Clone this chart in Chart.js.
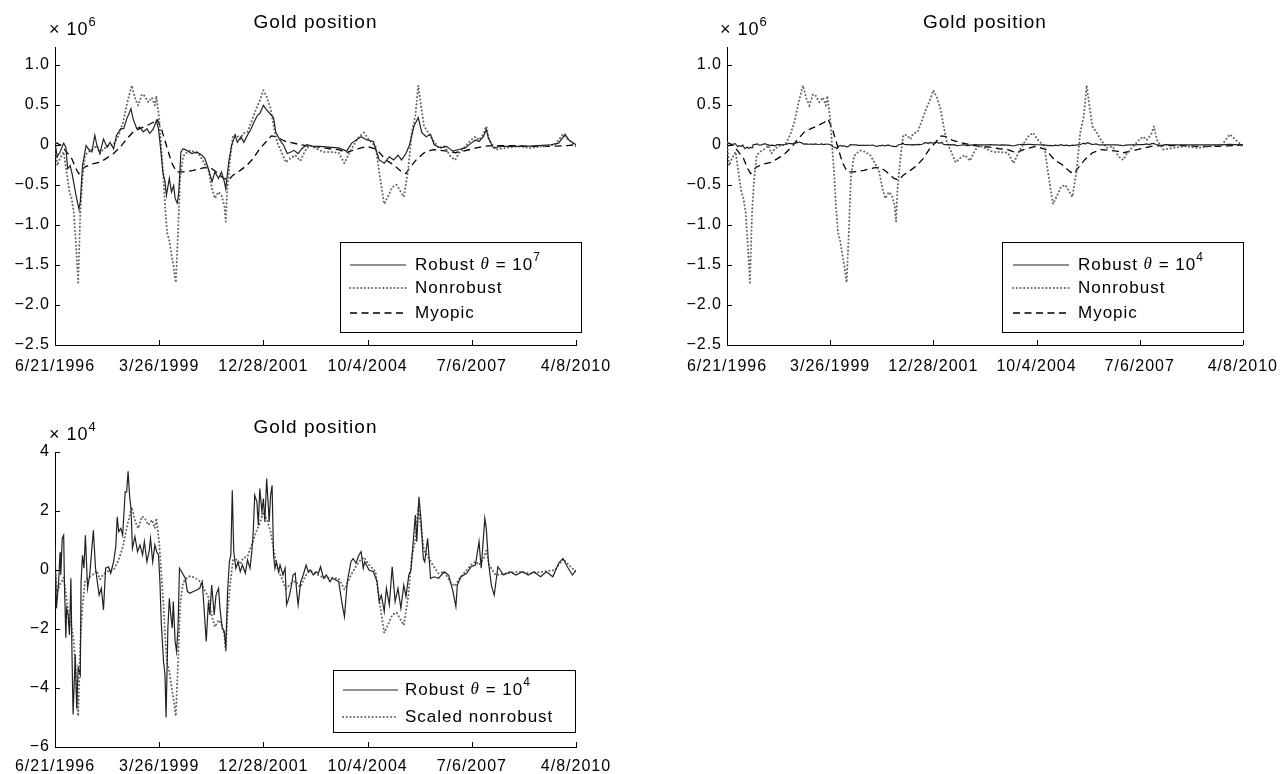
<!DOCTYPE html>
<html>
<head>
<meta charset="utf-8">
<script src="https://cdn.jsdelivr.net/npm/chart.js@4/dist/chart.umd.min.js"></script>
<style>
  html, body { margin: 0; padding: 0; background: #fff; }
  #wrap { position: relative; width: 1286px; height: 774px; overflow: hidden; }
  canvas { position: absolute; }
</style>
</head>
<body>
<div id="wrap">
  <canvas id="c1" width="640" height="380" style="left:0;top:0"></canvas>
  <canvas id="c2" width="646" height="380" style="left:640px;top:0"></canvas>
  <canvas id="c3" width="640" height="374" style="left:0;top:400px"></canvas>
</div>
<script>
// ── Gold position: robust vs nonrobust vs myopic ─────────────────────────────
// Weekly data, 6/21/1996 .. 4/8/2010. x is in weeks since 6/21/1996 (720 total),
// read off the reference at irregular spacing to keep the peaks.

const xTickWeeks = [0, 144, 288, 432, 576, 720];
const xTickText  = ['6/21/1996', '3/26/1999', '12/28/2001', '10/4/2004', '7/6/2007', '4/8/2010'];

const yTicksTop     = [-2.5, -2, -1.5, -1, -0.5, 0, 0.5, 1];
const yTicksTopText = ['\u22122.5', '\u22122.0', '\u22121.5', '\u22121.0', '\u22120.5', '0', '0.5', '1.0'];
const yTicksBot     = [-6, -4, -2, 0, 2, 4];
const yTicksBotText = ['\u22126', '\u22124', '\u22122', '0', '2', '4'];

// Robust θ = 10^7 (× 10^6)
const robust7Weeks = [0,3,7,12,15,17.5,21,24,29,32,33,35,38,43,46,51,55,58,62,67,72,76,81,85,91,95,99,105,108,113,117,122,127,131,136,140,143,146,149,152,154,158,161,164,166,169,171,174,177,182,189,196,203,207,212,217,221,226,230,234,236,240,244,249,252,257,261,266,270,275,280,283,288,293,297,302,305,310,316,321,326,330,336,341,348,357,366,378,392,403,410,423,431,440,448,455,462,468,474,479,485,490,496,502,507,513,519,524,533,541,550,558,567,575,581,586,592,596,599,606,617,634,651,668,685,696,705,710,720];
const robust7Vals  = [0.03,-0.15,-0.09,0.02,-0.03,-0.30,-0.26,-0.38,-0.63,-0.76,-0.80,-0.71,-0.26,-0.01,-0.05,-0.09,0.12,-0.01,-0.11,0.07,-0.03,0.03,-0.05,0.12,0.2,0.2,0.32,0.45,0.32,0.2,0.22,0.16,0.2,0.14,0.2,0.3,0.2,-0.05,-0.34,-0.46,-0.63,-0.42,-0.59,-0.51,-0.67,-0.73,-0.6,-0.09,-0.05,-0.07,-0.11,-0.09,-0.13,-0.17,-0.30,-0.46,-0.34,-0.42,-0.34,-0.46,-0.55,-0.22,-0.01,0.12,0.03,0.1,0.03,0.12,0.18,0.28,0.37,0.39,0.49,0.43,0.39,0.34,0.16,0.07,-0.01,-0.11,-0.09,-0.07,-0.11,-0.05,0,-0.02,-0.02,-0.03,-0.04,-0.08,0.02,0.1,0.06,0.04,-0.19,-0.23,-0.15,-0.19,-0.13,-0.19,-0.11,0,0.23,0.34,0.15,0.1,0.13,0,-0.04,-0.02,-0.08,-0.06,-0.04,0.02,0.06,0.04,0.1,0.19,0.08,-0.04,-0.02,-0.02,-0.02,-0.01,0,0.02,0.13,0.06,0];

// Nonrobust (× 10^6)
const nonrobustWeeks = [0,3,7,12,16,20,23,26,29,32,35,38,41.5,46,53,58,62,67,74,81,88,94,100,106,111,115,120,124,129,134,138,140,144,147,150,152,155,158,161,164,167,170,173,177,180,187,193,200,207,212,217,221,226,230,234,236,238,242,246,251,256,260,266,272,278,283,288,293,298,303,307,313,319,325,332,339,346,352,362,371,380,392,400,409,420,427,434,443,449,455,461,466,472,478,482,488,493,498,502,506,510,516,522,530,538,547,553,558,567,575,581,586,592,596,600,609,623,640,657,674,691,702,710,720];
const nonrobustVals  = [0.03,-0.26,-0.17,-0.09,-0.34,-0.59,-0.67,-0.84,-1.25,-1.72,-0.84,-0.42,-0.13,-0.09,-0.05,-0.01,-0.11,-0.05,-0.01,0,0.12,0.28,0.53,0.74,0.57,0.49,0.63,0.61,0.53,0.59,0.49,0.61,0.32,-0.05,-0.42,-0.76,-1.1,-1.2,-1.37,-1.53,-1.72,-1.1,-0.4,-0.15,-0.11,-0.07,-0.09,-0.13,-0.24,-0.32,-0.55,-0.67,-0.59,-0.63,-0.76,-0.96,-0.55,-0.17,0.12,0.12,0.07,0.14,0.16,0.3,0.45,0.55,0.68,0.59,0.45,0.2,0.03,-0.09,-0.22,-0.17,-0.13,-0.2,-0.07,-0.01,-0.05,-0.09,-0.09,-0.1,-0.23,-0.06,0.1,0.15,0.06,-0.02,-0.4,-0.74,-0.63,-0.53,-0.5,-0.59,-0.65,-0.32,0.15,0.36,0.74,0.48,0.23,0.15,0.06,-0.04,-0.02,-0.15,-0.19,-0.11,-0.02,0.06,0.1,0.06,0.13,0.23,0.06,-0.06,-0.04,-0.02,-0.04,-0.02,0,0.13,0.06,-0.02];

// Myopic (× 10^6)
const myopicWeeks = [0,9,16,23,29,33,41,51,62,71,81,90,99,108,117,127,136,141,147,154,161,168,177,191,205,214,223,233,240,246,256,265,274,283,293,299,306,316,325,339,352,366,380,392,403,414,431,445,457,468,479,485,490,499,510,522,533,544,553,564,578,592,606,629,657,685,708,720];
const myopicVals  = [0.03,-0.01,-0.09,-0.17,-0.3,-0.36,-0.28,-0.24,-0.22,-0.17,-0.11,-0.03,0.07,0.16,0.2,0.24,0.28,0.32,0.2,-0.01,-0.22,-0.34,-0.34,-0.32,-0.29,-0.28,-0.34,-0.42,-0.44,-0.38,-0.32,-0.26,-0.17,-0.05,0.05,0.11,0.1,0.05,0.03,0,-0.02,-0.03,-0.05,-0.06,-0.1,-0.06,-0.02,-0.06,-0.19,-0.25,-0.34,-0.36,-0.29,-0.19,-0.1,-0.06,-0.07,-0.08,-0.1,-0.08,-0.05,-0.02,-0.01,-0.01,-0.02,-0.02,-0.01,0];

// Robust θ = 10^4 (× 10^4)
const robust4Weeks = [0,2,5,7,8,10,12,13,15,16,18,20,22,23.5,25,28,30,32,35,36,38,40,42,45,48,53,56,58.5,61,64,67,70,74,77,81,84,86,88,91,93.5,97,99,101,103,105,107,110.5,114,117.5,121,123.5,127,130,132,135,138,140.5,143,145,147,150,152,153.5,156,158,160,162,163.5,166,168,170,172,175,180,183,186.5,191,196,200,203.5,206,209,212,214,216.5,220,222.5,226,228,231,234,236,238.5,241,243,245,247,250,253,256,259,263,266,269.5,272,274,276,279,281,283,286,288,290,292.5,295,296,298,300,302,304,306,309,311,315,318,320,323,326,329,332,334,336,339.5,343,347,350,353,357,361,364,367,371,375,380,383,392,397,400,404,409,412,416,420,423,426,428,434,440,445,448,451,455,458,462,466,470,474,478,482,485,489,492,495,498,500,503,506,509,511,515,519,524,530,538,544,550,554,556,561,569,575,581,586,589,594,596,599,603,607,612,620,629,637,646,654,662,671,679,688,696,702,708,715,720];
const robust4Vals  = [0.85,-1.3,-0.4,0.6,-0.17,1.07,1.18,-0.4,-2.3,-1.3,-1.52,-2.2,-0.28,-2.87,-4.9,-2.87,-4.7,-3.3,-3.55,-0.4,0.5,0.06,1.18,-0.62,-0.17,1.35,0.06,-0.4,-0.85,-0.62,-1.35,0.06,0.11,-0.11,0.28,0.79,1.8,1.3,1.41,1.18,2.65,2.65,3.35,2.54,2.08,0.73,1.13,0.62,0.85,0.51,0.96,0.28,0.62,1.07,0.28,0.85,0.62,0.51,-0.4,-1.86,-3.1,-3.55,-5.0,-1.97,-0.96,-1.52,-1.97,-1.07,-2.42,-2.76,-1.97,0.06,-0.06,-0.28,-0.73,-0.79,-0.73,-0.68,-0.62,-0.4,-1.3,-2.42,-1.07,-1.52,-0.51,-1.52,-0.85,-0.62,-1.3,-1.97,-2.08,-2.65,-0.73,0.28,0.51,2.7,0.62,0.06,0.28,-0.06,0.17,-0.11,0.34,0.06,0.62,1.3,2.54,2.31,1.52,2.76,1.97,2.42,1.63,3.1,2.08,1.63,2.54,2.87,0.51,0.06,0.28,-0.06,0.17,-0.17,0.06,-1.18,-0.96,-0.62,-0.17,-0.11,-0.73,-1.18,-0.4,-0.17,0.17,-0.06,0,-0.17,-0.06,-0.11,0.11,-0.28,-0.17,-0.4,-0.28,-0.39,-1.18,-1.58,-0.39,0.28,0.39,0.23,0.51,0.62,0.06,0.28,0,-0.06,-0.39,-1.07,-0.85,-1.41,-0.62,-1.18,0.11,-1.07,-0.62,-1.3,-0.51,-0.9,-0.17,0,0.96,1.86,0.96,2.48,1.63,0.39,0.28,1.07,-0.28,-0.23,-0.28,-0.06,-0.17,-0.73,-1.24,-0.51,-0.23,-0.11,0.11,0.17,0.96,0.06,1.75,1.41,0.28,-0.51,-0.85,0.11,-0.17,-0.06,-0.17,-0.06,-0.17,-0.06,-0.23,-0.06,-0.23,0.23,0.39,0.11,-0.17,0];

// panel 2 shows the θ = 10^4 series in units of 10^6; panel 3 rescales the nonrobust
// series onto the 10^4 axis (its −1.72×10^6 trough sits at about −4.95×10^4)
const ROBUST4_IN_1E6 = 0.01;
const NONROBUST_SCALE = 4.95 / 1.72;

const FONT = '"Liberation Sans", Arial, sans-serif';
const pts = (w, v, k = 1) => w.map((x, i) => ({ x, y: v[i] * k }));

const solid  = { borderColor: '#222', borderWidth: 1.2, borderDash: [] };
const dotted = { borderColor: '#666', borderWidth: 2, borderDash: [0.1, 3.6], borderCapStyle: 'round' };
const dashed = { borderColor: '#000', borderWidth: 1.3, borderDash: [7, 4.5] };

// draw text made of plain / italic (θ) / superscript segments
function drawSegs(ctx, segs, x, y, size) {
  for (const [t, k] of segs) {
    let dy = 0;
    ctx.font = size + 'px ' + FONT;
    if (k === 'i') ctx.font = 'italic ' + size + 'px "Liberation Serif", serif';
    if (k === 's') { ctx.font = Math.round(size * 0.7) + 'px ' + FONT; dy = -size * 0.42; }
    ctx.fillText(t, x, y + dy);
    x += ctx.measureText(t).width;
  }
}

const panelText = {
  id: 'panelText',
  beforeDraw(chart) { chart.ctx.letterSpacing = '1px'; },
  afterDraw(chart, args, o) {
    const { ctx, chartArea: a, scales: { x, y } } = chart;
    ctx.save();
    // inward ticks
    ctx.strokeStyle = '#000'; ctx.lineWidth = 1; ctx.setLineDash([]);
    ctx.beginPath();
    x.ticks.forEach(t => { const p = Math.round(x.getPixelForValue(t.value)) + 0.5; ctx.moveTo(p, a.bottom); ctx.lineTo(p, a.bottom - 5); });
    y.ticks.forEach(t => { const p = Math.round(y.getPixelForValue(t.value)) + 0.5; ctx.moveTo(a.left, p); ctx.lineTo(a.left + 5, p); });
    ctx.stroke();
    // title + multiplier
    ctx.fillStyle = '#000'; ctx.textBaseline = 'middle';
    ctx.textAlign = 'center'; ctx.font = '19px ' + FONT;
    ctx.fillText('Gold position', (a.left + a.right) / 2, o.titleY);
    ctx.textAlign = 'left';
    drawSegs(ctx, [['\u00d7 10', 'n'], [o.exp, 's']], o.multX, o.multY, 18);
    // legend box
    const L = o.legend;
    ctx.strokeStyle = '#000'; ctx.lineWidth = 1;
    ctx.strokeRect(L.x + 0.5, L.y + 0.5, L.w, L.h);
    L.rows.forEach((r, i) => {
      const ds = chart.data.datasets[i];
      const ry = L.y + r.dy;
      ctx.beginPath();
      ctx.strokeStyle = ds.borderColor; ctx.lineWidth = ds.borderWidth;
      ctx.lineCap = ds.borderCapStyle || 'butt';
      ctx.setLineDash(ds.borderDash || []);
      ctx.moveTo(L.x + L.lineX0, ry); ctx.lineTo(L.x + L.lineX1, ry);
      ctx.stroke();
      ctx.setLineDash([]); ctx.lineCap = 'butt';
      ctx.fillStyle = '#000';
      drawSegs(ctx, r.label, L.x + L.textX, ry, 17);
    });
    ctx.restore();
  }
};

function makePanel(id, cfg) {
  return new Chart(document.getElementById(id), {
    type: 'line',
    data: { datasets: cfg.datasets.map(d => ({ ...d, pointRadius: 0, tension: 0, fill: false })) },
    options: {
      responsive: false, animation: false, events: [],
      layout: { padding: { left: 0, right: cfg.padRight, top: cfg.padTop, bottom: 0 } },
      plugins: { legend: { display: false }, tooltip: { enabled: false }, panelText: cfg.text },
      scales: {
        x: {
          type: 'linear', min: 0, max: 720,
          grid: { display: false, drawTicks: false }, border: { display: true, color: '#000', width: 1 },
          afterBuildTicks: s => { s.ticks = xTickWeeks.map(v => ({ value: v })); },
          afterFit: s => { s.height = cfg.xHeight; },
          ticks: { autoSkip: false, maxRotation: 0, padding: cfg.xPad, color: '#000',
                   font: { family: FONT, size: 16 }, callback: (v, i) => xTickText[i] }
        },
        y: {
          min: cfg.yMin, max: cfg.yMax,
          grid: { display: false, drawTicks: false }, border: { display: true, color: '#000', width: 1 },
          afterBuildTicks: s => { s.ticks = cfg.yTicks.map(v => ({ value: v })); },
          afterFit: s => { s.width = cfg.yWidth; },
          ticks: { autoSkip: false, padding: 5, color: '#000',
                   font: { family: FONT, size: 16 }, callback: (v, i) => cfg.yText[i] }
        }
      }
    },
    plugins: [panelText]
  });
}

const legendTop = (n) => ({
  rows: [
    { dy: 23, label: [['Robust ', 'n'], ['\u03b8', 'i'], [' = 10', 'n'], [n, 's']] },
    { dy: 46, label: [['Nonrobust', 'n']] },
    { dy: 71, label: [['Myopic', 'n']] }
  ]
});

makePanel('c1', {
  datasets: [
    { ...solid,  data: pts(robust7Weeks, robust7Vals) },
    { ...dotted, data: pts(nonrobustWeeks, nonrobustVals) },
    { ...dashed, data: pts(myopicWeeks, myopicVals) }
  ],
  yMin: -2.5, yMax: 1.22, yTicks: yTicksTop, yText: yTicksTopText,
  yWidth: 55, padRight: 64, padTop: 47, xHeight: 35, xPad: 12,
  text: { titleY: 23, multX: 49, multY: 30, exp: '6',
          legend: { x: 340, y: 242, w: 241, h: 90, lineX0: 10, lineX1: 66, textX: 75, ...legendTop('7') } }
});

makePanel('c2', {
  datasets: [
    { ...solid,  data: pts(robust4Weeks, robust4Vals, ROBUST4_IN_1E6) },
    { ...dotted, data: pts(nonrobustWeeks, nonrobustVals) },
    { ...dashed, data: pts(myopicWeeks, myopicVals) }
  ],
  yMin: -2.5, yMax: 1.22, yTicks: yTicksTop, yText: yTicksTopText,
  yWidth: 87, padRight: 43, padTop: 47, xHeight: 35, xPad: 12,
  text: { titleY: 23, multX: 80, multY: 30, exp: '6',
          legend: { x: 362, y: 242, w: 241, h: 90, lineX0: 11, lineX1: 67, textX: 76, ...legendTop('4') } }
});

makePanel('c3', {
  datasets: [
    { ...solid,  data: pts(robust4Weeks, robust4Vals) },
    { ...dotted, data: pts(nonrobustWeeks, nonrobustVals, NONROBUST_SCALE) }
  ],
  yMin: -6, yMax: 4, yTicks: yTicksBot, yText: yTicksBotText,
  yWidth: 55, padRight: 64, padTop: 52, xHeight: 27, xPad: 10,
  text: { titleY: 28, multX: 49, multY: 35, exp: '4',
          legend: { x: 333, y: 270, w: 242, h: 62,
                    lineX0: 10, lineX1: 65, textX: 72,
                    rows: [
                      { dy: 20, label: [['Robust ', 'n'], ['\u03b8', 'i'], [' = 10', 'n'], ['4', 's']] },
                      { dy: 47, label: [['Scaled nonrobust', 'n']] }
                    ] } }
});
</script>
</body>
</html>
